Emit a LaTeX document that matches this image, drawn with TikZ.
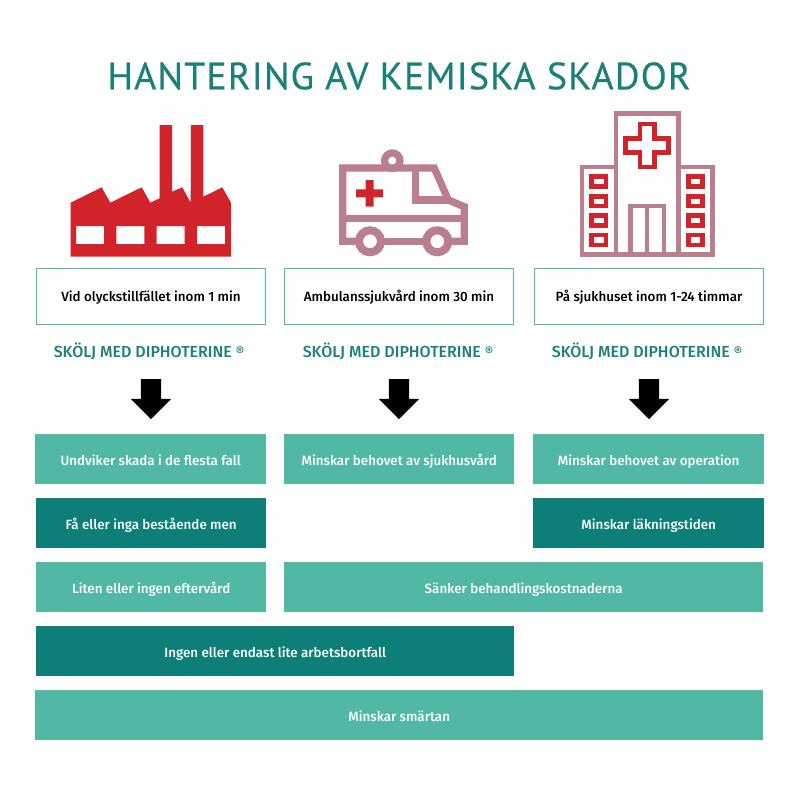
\documentclass[tikz,border=0pt]{standalone}
\usepackage{fontspec}
\setmainfont{Fira Sans Medium}
\newfontfamily\titlefont[LetterSpace=3,FakeBold=0.4]{PT Sans}
\usetikzlibrary{shapes.arrows}
\definecolor{lightteal}{HTML}{50B8A5}
\definecolor{darkteal}{HTML}{0D7F78}
\definecolor{headteal}{HTML}{1A8078}
\definecolor{iconred}{HTML}{D2232A}
\definecolor{iconpink}{HTML}{B97F8E}
\newcommand{\regmark}{\raisebox{1pt}{\fontsize{13}{13}\selectfont ®}}
\tikzset{
  headbox/.style={draw=lightteal,line width=1pt,anchor=north west,minimum height=56,minimum width=229,inner sep=0pt,text height=10,text depth=0,font=\fontsize{13.4}{14}\selectfont},
  lightbox/.style={fill=lightteal,text=white,anchor=north west,minimum height=50,inner sep=0pt,text height=12,text depth=0,font=\fontsize{13.4}{14}\selectfont},
  darkbox/.style={lightbox,fill=darkteal},
  rinse/.style={text=headteal,font=\fontsize{16}{16}\selectfont},
  downarrow/.style={single arrow,fill=black,shape border rotate=270,minimum height=40,single arrow head extend=10,inner xsep=10,inner ysep=0},
  pinkline/.style={draw=iconpink,line width=7.3},
  wheelline/.style={draw=iconpink,line width=8},
  hospline/.style={draw=iconpink,line width=4.5},
  redline/.style={draw=iconred,line width=4.5}
}
\begin{document}
\begin{tikzpicture}[x=1pt,y=-1pt]
\useasboundingbox (0,0) rectangle (800,800);
\node[text=headteal,font=\fontsize{38}{44}\selectfont\titlefont] (title) at (399,76) {HANTERING AV KEMISKA SKADOR};
\fill[iconred,even odd rule] (70.7,202.7) -- (101.7,187.3) -- (110.3,202.7) -- (141.7,187.3) -- (150.3,202.7) -- (159.7,198.3) -- (159.7,125) -- (172,125) -- (172,191.7) -- (182.3,187.3) -- (190.7,202.7) -- (191,125) -- (203.3,125) -- (203.3,196.7) -- (222.3,187.3) -- (231,202.7) -- (231,256.7) -- (70.7,256.7) -- cycle
  (76,226) rectangle (104,244) (116.3,226) rectangle (144.3,244) (156.7,226) rectangle (184.7,244) (197,226) rectangle (225,244);
\draw[pinkline] (392.3,160.7) circle (7.7);
\draw[pinkline] (358.7,241.3) -- (342.7,241.3) -- (342.7,168) -- (434.3,168) -- (448.3,200) -- (464.3,206.7) -- (464.3,241.3) -- (448.7,241.3);
\draw[pinkline] (381.3,241.3) -- (426,241.3);
\draw[pinkline] (342.7,218.3) -- (464.3,218.3);
\draw[pinkline] (415.7,168) -- (415.7,200) -- (448.3,200);
\foreach \wheelx in {370,437.3} \draw[wheelline,fill=white] (\wheelx,241.3) circle (11);
\fill[iconred] (356.2,189.3) rectangle (383.2,197.3) (365.7,180) rectangle (373.7,206.7);
\draw[hospline] (616,254.3) -- (616,113.7) -- (678.7,113.7) -- (678.7,254.3);
\draw[hospline] (616,167) -- (582,167) -- (582,254.3) -- (712.7,254.3) -- (712.7,167) -- (678.7,167);
\draw[hospline] (630.3,254.3) -- (630.3,206) -- (664,206) -- (664,254.3);
\draw[hospline] (647,206) -- (647,254.3);
\draw[redline] (640,124) -- (654.7,124) -- (654.7,138.3) -- (668.7,138.3) -- (668.7,152.7) -- (654.7,152.7) -- (654.7,167) -- (640,167) -- (640,152.7) -- (625.3,152.7) -- (625.3,138.3) -- (640,138.3) -- cycle;
\foreach \winy in {176.7,196.3,215.7,235} {
  \draw[redline] (591.7,\winy) rectangle (606,\winy+9.8);
  \draw[redline] (688.3,\winy) rectangle (702.7,\winy+9.8);
}
\node[headbox] (head1) at (36,268) {Vid olyckstillfället inom 1 min};
\node[headbox] (head2) at (284,268) {Ambulanssjukvård inom 30 min};
\node[headbox] (head3) at (534,268) {På sjukhuset inom 1-24 timmar};
\node[rinse] (rinse1) at (149,351.5) {SKÖLJ MED DIPHOTERINE \regmark};
\node[rinse] (rinse2) at (398,351.5) {SKÖLJ MED DIPHOTERINE \regmark};
\node[rinse] (rinse3) at (647,351.5) {SKÖLJ MED DIPHOTERINE \regmark};
\node[downarrow] (arrow1) at (151,394) {};
\node[downarrow] (arrow2) at (399,394) {};
\node[downarrow] (arrow3) at (649,394) {};
\node[lightbox,minimum width=231] (skada) at (35,434) {Undviker skada i de flesta fall};
\node[lightbox,minimum width=230] (sjukhus) at (284,434) {Minskar behovet av sjukhusvård};
\node[lightbox,minimum width=231] (operation) at (533,434) {Minskar behovet av operation};
\node[darkbox,minimum width=230] (men) at (36,498) {Få eller inga bestående men};
\node[darkbox,minimum width=231] (tid) at (533,498) {Minskar läkningstiden};
\node[lightbox,minimum width=230] (eftervard) at (36,562) {Liten eller ingen eftervård};
\node[lightbox,minimum width=479] (kostnad) at (284,562) {Sänker behandlingskostnaderna};
\node[darkbox,minimum width=478] (arbete) at (36,626) {Ingen eller endast lite arbetsbortfall};
\node[lightbox,minimum width=728] (smarta) at (35,690) {Minskar smärtan};
\end{tikzpicture}
\end{document}
